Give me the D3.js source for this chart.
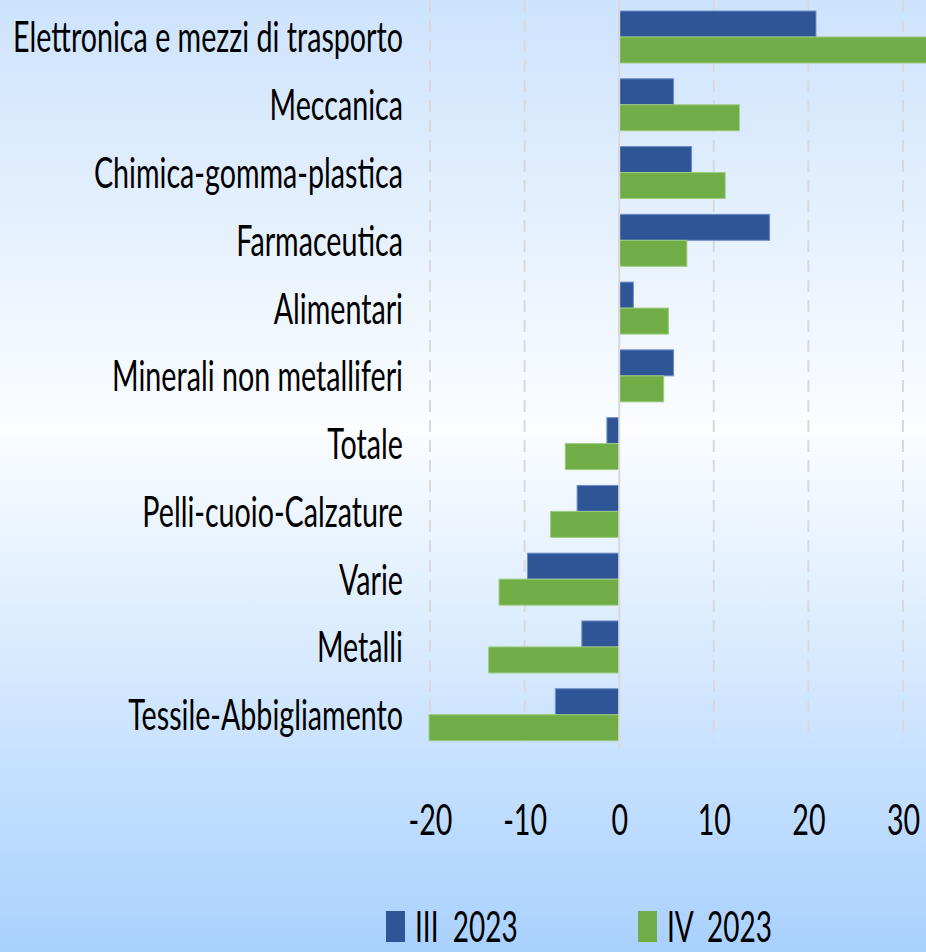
<!DOCTYPE html>
<html>
<head>
<meta charset="utf-8">
<script src="https://cdn.jsdelivr.net/npm/d3@7"></script>
<style>
html, body { margin: 0; padding: 0; }
body { width: 926px; height: 952px; overflow: hidden; }
svg text { font-family: Lato, "Open Sans", sans-serif; fill: #000; }
</style>
</head>
<body>
<svg id="chart" width="926" height="952"></svg>
<script>
const categories = [
    "Elettronica e mezzi di trasporto",
    "Meccanica",
    "Chimica-gomma-plastica",
    "Farmaceutica",
    "Alimentari",
    "Minerali non metalliferi",
    "Totale",
    "Pelli-cuoio-Calzature",
    "Varie",
    "Metalli",
    "Tessile-Abbigliamento"
];
const seriesNames = ["III  2023", "IV  2023"];
const valuesIII = [20.8, 5.75, 7.65, 15.9, 1.5, 5.75, -1.3, -4.45, -9.7, -3.95, -6.75];
const valuesIV = [34.5, 12.7, 11.2, 7.15, 5.2, 4.7, -5.7, -7.25, -12.7, -13.8, -20.1];
const xTicks = [-20, -10, 0, 10, 20, 30];
const colors = ["#2F5597", "#70AD47"];

const W = 926, H = 952;
const fontSize = 43;

const svg = d3.select("#chart");

// background gradient
const defs = svg.append("defs");
const grad = defs.append("linearGradient")
    .attr("id", "bg")
    .attr("x1", 0).attr("y1", 0).attr("x2", 0).attr("y2", 1);
grad.append("stop").attr("offset", "0%").attr("stop-color", "#cde3fd");
grad.append("stop").attr("offset", "45%").attr("stop-color", "#fbfdff");
grad.append("stop").attr("offset", "100%").attr("stop-color", "#a9d1fe");
svg.append("rect").attr("width", W).attr("height", H).attr("fill", "url(#bg)");

// text is narrow and tall, so squeeze it horizontally
const probe = svg.append("text").style("font-size", fontSize + "px").text(categories[0]);
const sx = 390 / probe.node().getComputedTextLength();
probe.remove();

const x = d3.scaleLinear()
    .domain([-20, 30])
    .range([430, 903]);

const y = d3.scaleBand()
    .domain(categories)
    .range([3.1, 748.6])
    .paddingInner(0.233)
    .paddingOuter(0.1165);

const sub = d3.scaleBand()
    .domain([0, 1])
    .range([0, y.bandwidth()]);

// grid lines
svg.append("g")
    .selectAll("line")
    .data(xTicks.filter(d => d !== 0))
    .join("line")
    .attr("x1", d => x(d)).attr("x2", d => x(d))
    .attr("y1", 0).attr("y2", 742)
    .attr("stroke", "#d9d9d9")
    .attr("stroke-width", 2)
    .attr("stroke-dasharray", "12,8");

// bars
const rows = categories.map((c, i) => ({ name: c, vals: [valuesIII[i], valuesIV[i]] }));
const groups = svg.append("g")
    .selectAll("g")
    .data(rows)
    .join("g")
    .attr("transform", d => `translate(0,${y(d.name)})`);

groups.selectAll("rect")
    .data(d => d.vals.map((v, k) => ({ v, k })))
    .join("rect")
    .attr("x", d => x(Math.min(0, d.v)))
    .attr("width", d => Math.abs(x(d.v) - x(0)))
    .attr("y", d => sub(d.k))
    .attr("height", sub.bandwidth())
    .attr("fill", d => colors[d.k])
    .attr("stroke", d => d.k === 0 ? "#6f8fc9" : "#9ccc7e")
    .attr("stroke-width", 1);

// zero line
svg.append("line")
    .attr("x1", x(0)).attr("x2", x(0))
    .attr("y1", 0).attr("y2", 748)
    .attr("stroke", "#d9d9d9")
    .attr("stroke-width", 2);

// category labels
const yAxis = svg.append("g")
    .attr("transform", "translate(403,0)")
    .call(d3.axisLeft(y).tickSize(0).tickPadding(0));
yAxis.select(".domain").remove();
yAxis.selectAll("text")
    .attr("font-family", null)
    .style("font-size", fontSize + "px")
    .attr("dy", "0.36em")
    .attr("x", 0)
    .attr("transform", `scale(${sx},1)`);

// x axis labels
const xAxis = svg.append("g")
    .attr("transform", "translate(0,835)")
    .call(d3.axisBottom(x).tickValues(xTicks).tickSize(0).tickPadding(0).tickFormat(d3.format("d")));
xAxis.select(".domain").remove();
xAxis.selectAll("text")
    .attr("font-family", null)
    .style("font-size", fontSize + "px")
    .attr("y", 0)
    .attr("dy", 0)
    .attr("transform", `scale(${sx},1)`)
    .text(d => String(d).replace("\u2212", "-"));

// legend
const legendX = [386, 638];
const legend = svg.append("g")
    .selectAll("g")
    .data(seriesNames)
    .join("g")
    .attr("transform", (d, i) => `translate(${legendX[i]},911)`);
legend.append("rect")
    .attr("width", 19)
    .attr("height", 31)
    .attr("fill", (d, i) => colors[i]);
legend.append("text")
    .attr("transform", `translate(29,31) scale(${sx},1)`)
    .style("font-size", "42px")
    .style("white-space", "pre")
    .text(d => d);
</script>
</body>
</html>
